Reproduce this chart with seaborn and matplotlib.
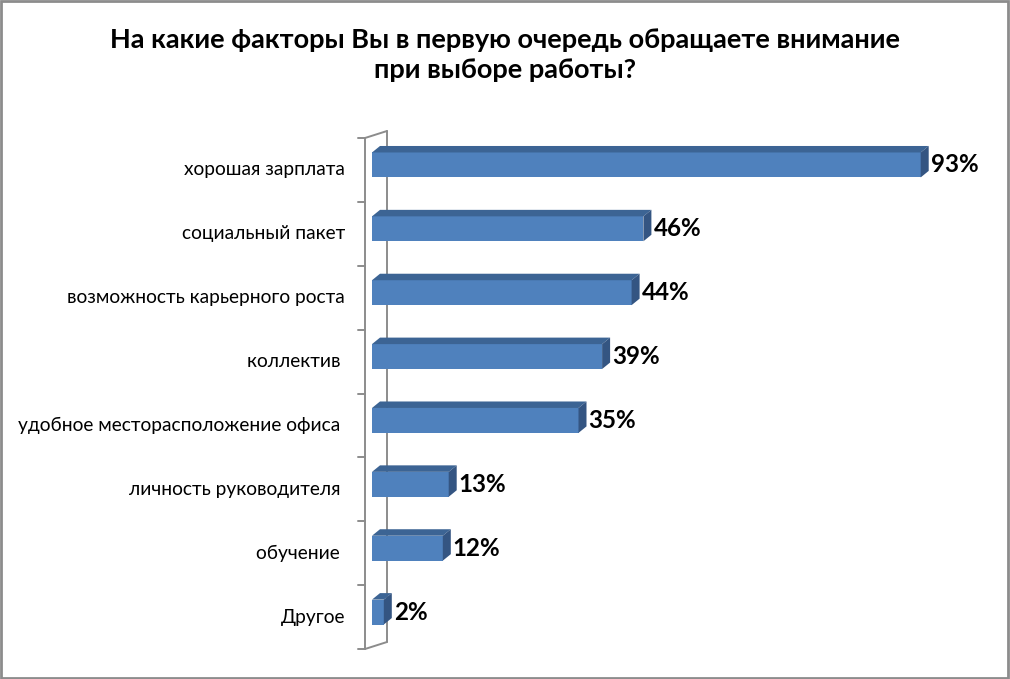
import matplotlib
matplotlib.use("Agg")
import matplotlib.pyplot as plt
import matplotlib.transforms as mtransforms
from matplotlib.patches import Polygon, Rectangle
from matplotlib.lines import Line2D
import seaborn as sns
import pandas as pd

# данные
factors = [
    "хорошая зарплата",
    "социальный пакет",
    "возможность карьерного роста",
    "коллектив ",
    "удобное месторасположение офиса ",
    "личность руководителя ",
    "обучение ",
    "Другое",
]
shares = [93, 46, 44, 39, 35, 13, 12, 2]
title = "На какие факторы Вы в первую очередь обращаете внимание\nпри выборе работы?"

df = pd.DataFrame({"factor": factors, "share": shares})

sns.set_style("white")
plt.rcParams['font.family'] = ['Lato', 'DejaVu Sans']

W, H = 1010, 679
fig = plt.figure(figsize=(W / 100, H / 100), dpi=100)
ax = fig.add_axes([372 / W, (H - 644) / H, 590 / W, 511 / H])

front = "#4F81BD"
top_c = "#3C6494"
side_c = "#345582"

sns.barplot(data=df, x="share", y="factor", orient="h", color=front,
            width=0.39, saturation=1, ax=ax, zorder=3, linewidth=0, edgecolor="none")
ax.set_xlim(0, 100)
ax.set_ylim(len(factors) - 0.5, -0.5)
ax.axis("off")

# 3D грани
px_x = 590 / 100      # пикселей на 1%
px_y = 511 / len(factors)
dx = 8 / px_x
dy = 6.5 / px_y
for p in list(ax.patches):
    x0, y0 = p.get_x(), p.get_y()
    w, h = p.get_width(), p.get_height()
    x1 = x0 + w
    ax.add_patch(Polygon([(x0, y0), (x1, y0), (x1 + dx, y0 - dy), (x0 + dx, y0 - dy)],
                         closed=True, facecolor=top_c, edgecolor="none", zorder=3))
    ax.add_patch(Polygon([(x1, y0), (x1 + dx, y0 - dy), (x1 + dx, y0 + h - dy), (x1, y0 + h)],
                         closed=True, facecolor=side_c, edgecolor="none", zorder=3))


def offs(px, py):
    return mtransforms.ScaledTranslation(px / 100, py / 100, fig.dpi_scale_trans)


# оси "стенки"
blend = mtransforms.blended_transform_factory(ax.transAxes, ax.transData)
grey = "#8C8C8C"
yb, yt = len(factors) - 0.5, -0.5
ax.add_line(Line2D([0, 0], [yt, yb], color=grey, lw=1.4, transform=blend + offs(-7, -5),
                   clip_on=False, zorder=1))
ax.add_line(Line2D([0, 0], [yt, yb], color=grey, lw=1.4, transform=blend + offs(15, 2),
                   clip_on=False, zorder=1))
# диагонали сверху и снизу
for yy in [yt, yb]:
    p_front = (blend + offs(-7, -5)).transform((0, yy))
    p_back = (blend + offs(15, 2)).transform((0, yy))
    fig.add_artist(Line2D([p_front[0], p_back[0]], [p_front[1], p_back[1]], color=grey,
                          lw=1.4, transform=mtransforms.IdentityTransform(), zorder=1))
for i in range(len(factors) + 1):
    ax.add_line(Line2D([-14 / 590, -7 / 590], [i - 0.5, i - 0.5], color=grey, lw=1.4,
                       transform=blend + offs(0, -5), clip_on=False, zorder=1))

# подписи категорий
for i, lab in enumerate(factors):
    ax.text(0, i, lab, ha="right", va="center", fontsize=13.8, color="black",
            transform=blend + offs(-27, -5))

# подписи значений
for i, v in enumerate(shares):
    ax.text(v, i, f"{v}%", ha="left", va="center", fontsize=17.4, fontweight="bold",
            color="black", transform=ax.transData + offs(10, 0))

fig.text(0.5, 1 - 55 / H, title, ha="center", va="center", fontsize=19.5,
         fontweight="bold", linespacing=1.32, color="black")

fig.add_artist(Rectangle((0.001, 0.002), 0.997, 0.996, transform=fig.transFigure,
                         fill=False, edgecolor="#8C8C8C", lw=2))

fig.savefig("out.png", dpi=100)
